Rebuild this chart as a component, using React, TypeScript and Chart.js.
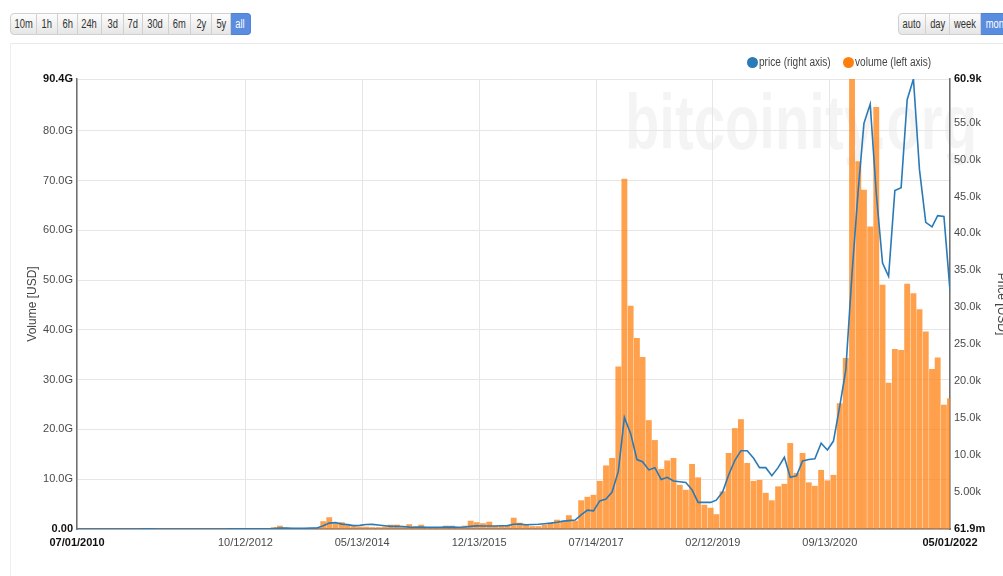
import React, { useEffect, useRef } from "react";
import { Chart, registerables } from "chart.js";

Chart.register(...registerables);

const FONT = "'Liberation Sans', Arial, sans-serif";

// Monthly buckets (start of month)
const months: string[] = [
  "2010-07", "2010-08", "2010-09", "2010-10", "2010-11", "2010-12",
  "2011-01", "2011-02", "2011-03", "2011-04", "2011-05", "2011-06", "2011-07", "2011-08", "2011-09", "2011-10", "2011-11", "2011-12",
  "2012-01", "2012-02", "2012-03", "2012-04", "2012-05", "2012-06", "2012-07", "2012-08", "2012-09", "2012-10", "2012-11", "2012-12",
  "2013-01", "2013-02", "2013-03", "2013-04", "2013-05", "2013-06", "2013-07", "2013-08", "2013-09", "2013-10", "2013-11", "2013-12",
  "2014-01", "2014-02", "2014-03", "2014-04", "2014-05", "2014-06", "2014-07", "2014-08", "2014-09", "2014-10", "2014-11", "2014-12",
  "2015-01", "2015-02", "2015-03", "2015-04", "2015-05", "2015-06", "2015-07", "2015-08", "2015-09", "2015-10", "2015-11", "2015-12",
  "2016-01", "2016-02", "2016-03", "2016-04", "2016-05", "2016-06", "2016-07", "2016-08", "2016-09", "2016-10", "2016-11", "2016-12",
  "2017-01", "2017-02", "2017-03", "2017-04", "2017-05", "2017-06", "2017-07", "2017-08", "2017-09", "2017-10", "2017-11", "2017-12",
  "2018-01", "2018-02", "2018-03", "2018-04", "2018-05", "2018-06", "2018-07", "2018-08", "2018-09", "2018-10", "2018-11", "2018-12",
  "2019-01", "2019-02", "2019-03", "2019-04", "2019-05", "2019-06", "2019-07", "2019-08", "2019-09", "2019-10", "2019-11", "2019-12",
  "2020-01", "2020-02", "2020-03", "2020-04", "2020-05", "2020-06", "2020-07", "2020-08", "2020-09", "2020-10", "2020-11", "2020-12",
  "2021-01", "2021-02", "2021-03", "2021-04", "2021-05", "2021-06", "2021-07", "2021-08", "2021-09", "2021-10", "2021-11", "2021-12",
  "2022-01", "2022-02", "2022-03", "2022-04", "2022-05",
];

// Volume in billions of USD (left axis)
const volumeG: number[] = [
  0.0004, 0.0003, 0.0003, 0.002, 0.004, 0.002,
  0.002, 0.004, 0.003, 0.006, 0.04, 0.12, 0.06, 0.05, 0.03, 0.03, 0.02, 0.02,
  0.03, 0.03, 0.02, 0.02, 0.02, 0.03, 0.05, 0.07, 0.04, 0.03, 0.03, 0.03,
  0.05, 0.09, 0.3, 0.6, 0.2, 0.15, 0.1, 0.1, 0.1, 0.2, 1.5, 2.3,
  1.0, 1.3, 0.7, 0.5, 0.4, 0.4, 0.3, 0.3, 0.4, 0.8, 0.8, 0.5,
  0.9, 0.5, 0.8, 0.3, 0.2, 0.3, 0.6, 0.6, 0.3, 0.6, 1.6, 1.3,
  1.1, 1.4, 0.6, 0.6, 0.6, 2.2, 1.2, 0.8, 0.5, 0.5, 0.8, 1.2,
  1.8, 1.4, 2.7, 1.6, 5.7, 6.4, 6.8, 9.6, 12.7, 14.2, 32.6, 70.3,
  44.8, 38.3, 34.5, 21.8, 17.8, 12.0, 13.7, 14.2, 8.8, 7.8, 13.0, 10.3,
  4.8, 4.2, 2.9, 7.5, 15.2, 20.2, 22.0, 13.2, 9.6, 9.8, 7.2, 5.7,
  8.5, 9.0, 17.2, 11.2, 15.2, 9.3, 8.6, 11.8, 9.7, 10.8, 25.2, 34.3,
  90.4, 73.8, 68.1, 60.7, 84.7, 49.0, 29.3, 36.1, 35.9, 49.2, 47.3, 44.1,
  39.6, 32.1, 34.4, 24.9, 26.2,
];

// Price in USD (right axis)
const priceUSD: number[] = [
  0.0619, 0.07, 0.062, 0.11, 0.26, 0.24,
  0.38, 0.9, 0.86, 1.1, 5.0, 17.0, 14.0, 10.0, 5.5, 3.3, 2.6, 3.5,
  6.2, 5.3, 4.9, 5.0, 5.1, 5.8, 7.9, 10.6, 11.5, 11.6, 11.2, 13.3,
  15.5, 25, 56, 127, 119, 107, 87, 106, 127, 145, 440, 800,
  857, 660, 590, 460, 490, 610, 620, 540, 450, 360, 370, 340,
  250, 235, 270, 235, 237, 237, 280, 255, 235, 265, 350, 425,
  410, 405, 415, 430, 460, 640, 660, 580, 605, 640, 720, 790,
  915, 1060, 1130, 1210, 1900, 2550, 2450, 3800, 4050, 5000, 7800, 15100,
  12900, 9400, 9100, 8000, 8300, 6700, 7000, 6500, 6400, 6300, 5300, 3600,
  3600, 3600, 3900, 5000, 7300, 9300, 10600, 10600, 9600, 8300, 8300, 7200,
  8300, 9700, 7000, 7200, 9200, 9400, 9500, 11600, 10700, 11900, 16600, 21500,
  34600, 46000, 54900, 57500, 45400, 36000, 34200, 45800, 46200, 58100, 60900, 48600,
  41500, 40900, 42400, 42300, 32300,
];

const xTickLabels: string[] = [
  "07/01/2010", "10/12/2012", "05/13/2014", "12/13/2015",
  "07/14/2017", "02/12/2019", "09/13/2020", "05/01/2022",
];

const volumeTickValues: number[] = [0, 10, 20, 30, 40, 50, 60, 70, 80, 90.4];
const volumeTickLabels: string[] = [
  "0.00", "10.0G", "20.0G", "30.0G", "40.0G", "50.0G", "60.0G", "70.0G", "80.0G", "90.4G",
];

const priceTickValues: number[] = [
  0.0619, 5000, 10000, 15000, 20000, 25000, 30000, 35000, 40000, 45000, 50000, 55000, 60900,
];
const priceTickLabels: string[] = [
  "61.9m", "5.00k", "10.0k", "15.0k", "20.0k", "25.0k", "30.0k", "35.0k",
  "40.0k", "45.0k", "50.0k", "55.0k", "60.9k",
];

const rangeButtons: string[] = ["10m", "1h", "6h", "24h", "3d", "7d", "30d", "6m", "2y", "5y", "all"];
const rangeButtonWidths: number[] = [27, 21, 20, 24, 22, 19, 26, 22, 21, 19, 20];
const groupButtons: string[] = ["auto", "day", "week", "month"];
const groupButtonWidths: number[] = [28, 24, 31, 36];

const ORIGIN = Date.UTC(2010, 6, 1);
const DAY = 86400000;
const monthToDay = (m: string) => {
  const [y, mo] = m.split("-").map(Number);
  return (Date.UTC(y, mo - 1, 1) - ORIGIN) / DAY;
};
const labelToDay = (s: string) => {
  const [mo, d, y] = s.split("/").map(Number);
  return (Date.UTC(y, mo - 1, d) - ORIGIN) / DAY;
};

const BLUE = "#2a7ab8";
const ORANGE = "#ff7f0e";

const watermark = {
  id: "watermark",
  beforeDraw(chart: any) {
    const { ctx } = chart;
    ctx.save();
    ctx.font = "bold 78px 'Liberation Sans', Arial, sans-serif";
    ctx.fillStyle = "rgba(0,0,0,0.045)";
    ctx.textBaseline = "alphabetic";
    const text = "bitcoinity.org";
    const w = ctx.measureText(text).width;
    ctx.translate(625, 149);
    ctx.scale(352 / w, 1);
    ctx.fillText(text, 0, 0);
    ctx.restore();
  },
};

function ButtonGroup({
  labels,
  widths,
  active,
  left,
}: {
  labels: string[];
  widths: number[];
  active: string;
  left: number;
}) {
  return (
    <div style={{ position: "absolute", left, top: 13, display: "flex", height: 22 }}>
      {labels.map((b, i) => {
        const on = b === active;
        return (
          <div
            key={b}
            style={{
              boxSizing: "border-box",
              width: widths[i],
              height: 22,
              display: "flex",
              alignItems: "center",
              justifyContent: "center",
              font: `12px ${FONT}`,
              color: on ? "#fff" : "#333",
              background: on ? "#5a8ce0" : "linear-gradient(#fdfdfd, #e6e6e6)",
              border: `1px solid ${on ? "#4f83da" : "#d0d0d0"}`,
              borderLeft: i === 0 ? `1px solid #d0d0d0` : "none",
              borderRadius: i === 0 ? "4px 0 0 4px" : i === labels.length - 1 ? "0 4px 4px 0" : 0,
              whiteSpace: "nowrap",
              overflow: "hidden",
            }}
          >
            <span
              style={{
                display: "block",
                lineHeight: "14px",
                transform: "scaleX(0.78)",
                transformOrigin: "center",
              }}
            >
              {b}
            </span>
          </div>
        );
      })}
    </div>
  );
}

export default function App() {
  const ref = useRef<HTMLCanvasElement | null>(null);

  useEffect(() => {
    if (!ref.current) return;
    const xDays = months.map(monthToDay);
    const xTickDays = xTickLabels.map(labelToDay);
    const lastX = xTickDays.length - 1;
    const boldIf = (last: number) => (ctx: any) => ({
      family: FONT,
      size: 11,
      weight: ctx.index === 0 || ctx.index === last ? "bold" : "normal",
    });
    const colorIf = (last: number) => (ctx: any) =>
      ctx.index === 0 || ctx.index === last ? "#111" : "#4a4a4a";

    const chart = new Chart(ref.current, {
      type: "bar",
      data: {
        datasets: [
          {
            type: "line",
            label: "price (right axis)",
            data: months.map((_, i) => ({ x: xDays[i], y: priceUSD[i] })),
            yAxisID: "y2",
            borderColor: BLUE,
            backgroundColor: BLUE,
            borderWidth: 1.6,
            pointRadius: 0,
            tension: 0,
            fill: false,
            order: 0,
          } as any,
          {
            type: "bar",
            label: "volume (left axis)",
            data: months.map((_, i) => ({ x: xDays[i], y: volumeG[i] })),
            yAxisID: "y",
            backgroundColor: "rgba(255,133,25,0.78)",
            barThickness: 5.2,
            order: 1,
          } as any,
        ],
      },
      options: {
        responsive: false,
        animation: false,
        layout: { padding: { left: 0, right: 0, top: 79, bottom: 17 } },
        plugins: { legend: { display: false }, tooltip: { enabled: false } },
        scales: {
          x: {
            type: "linear",
            min: 0,
            max: xTickDays[lastX],
            offset: false,
            afterBuildTicks: (s: any) => {
              s.ticks = xTickDays.map((v) => ({ value: v }));
            },
            afterFit: (s: any) => {
              s.height = 30;
            },
            ticks: {
              autoSkip: false,
              maxRotation: 0,
              padding: 7,
              callback: (_v: any, i: number) => xTickLabels[i],
              font: boldIf(lastX) as any,
              color: colorIf(lastX) as any,
            },
            grid: { color: "#e6e6e6", drawTicks: false, offset: false },
            border: { color: "#707070", width: 1.5 },
          },
          y: {
            type: "linear",
            position: "left",
            min: 0,
            max: volumeTickValues[volumeTickValues.length - 1],
            afterBuildTicks: (s: any) => {
              s.ticks = volumeTickValues.map((v) => ({ value: v }));
            },
            afterFit: (s: any) => {
              s.width = 77;
            },
            ticks: {
              autoSkip: false,
              padding: 4,
              callback: (_v: any, i: number) => volumeTickLabels[i],
              font: boldIf(volumeTickLabels.length - 1) as any,
              color: colorIf(volumeTickLabels.length - 1) as any,
            },
            grid: { color: "#e6e6e6", drawTicks: false },
            border: { color: "#707070", width: 1.5 },
            title: {
              display: true,
              text: "Volume [USD]",
              color: "#444",
              font: { family: FONT, size: 12 },
              padding: { top: 25, bottom: 0 },
            },
          },
          y2: {
            type: "linear",
            position: "right",
            min: priceTickValues[0],
            max: priceTickValues[priceTickValues.length - 1],
            afterBuildTicks: (s: any) => {
              s.ticks = priceTickValues.map((v) => ({ value: v }));
            },
            afterFit: (s: any) => {
              s.width = 80;
            },
            ticks: {
              autoSkip: false,
              padding: 4,
              callback: (_v: any, i: number) => priceTickLabels[i],
              font: boldIf(priceTickLabels.length - 1) as any,
              color: colorIf(priceTickLabels.length - 1) as any,
            },
            grid: { drawOnChartArea: false, drawTicks: false },
            border: { color: "#707070", width: 1.5 },
            title: {
              display: true,
              text: "Price [USD]",
              color: "#444",
              font: { family: FONT, size: 12 },
              padding: { top: 21, bottom: 0 },
            },
          },
        },
      } as any,
      plugins: [watermark],
    });
    return () => chart.destroy();
  }, []);

  const legendText = {
    position: "absolute" as const,
    top: 55,
    font: `12px ${FONT}`,
    color: "#444",
    whiteSpace: "nowrap" as const,
    transform: "scaleX(0.84)",
    transformOrigin: "left",
  };

  return (
    <div
      style={{
        position: "fixed",
        left: 0,
        top: 0,
        width: 1003,
        height: 576,
        overflow: "hidden",
        background: "#fff",
      }}
    >
      <ButtonGroup labels={rangeButtons} widths={rangeButtonWidths} active="all" left={10} />
      <ButtonGroup labels={groupButtons} widths={groupButtonWidths} active="month" left={898} />
      <div style={{ position: "absolute", left: 10, top: 43, width: 1100, height: 1, background: "#e9e9e9" }} />
      <div style={{ position: "absolute", left: 10, top: 43, width: 1, height: 540, background: "#efefef" }} />
      <canvas
        ref={ref}
        width={1030}
        height={576}
        style={{ position: "absolute", left: 0, top: 0, width: 1030, height: 576 }}
      />
      <div style={{ position: "absolute", left: 747, top: 57, width: 11, height: 11, borderRadius: "50%", background: BLUE }} />
      <div style={{ ...legendText, left: 759 }}>price (right axis)</div>
      <div style={{ position: "absolute", left: 843, top: 57, width: 11, height: 11, borderRadius: "50%", background: ORANGE }} />
      <div style={{ ...legendText, left: 855 }}>volume (left axis)</div>
    </div>
  );
}
